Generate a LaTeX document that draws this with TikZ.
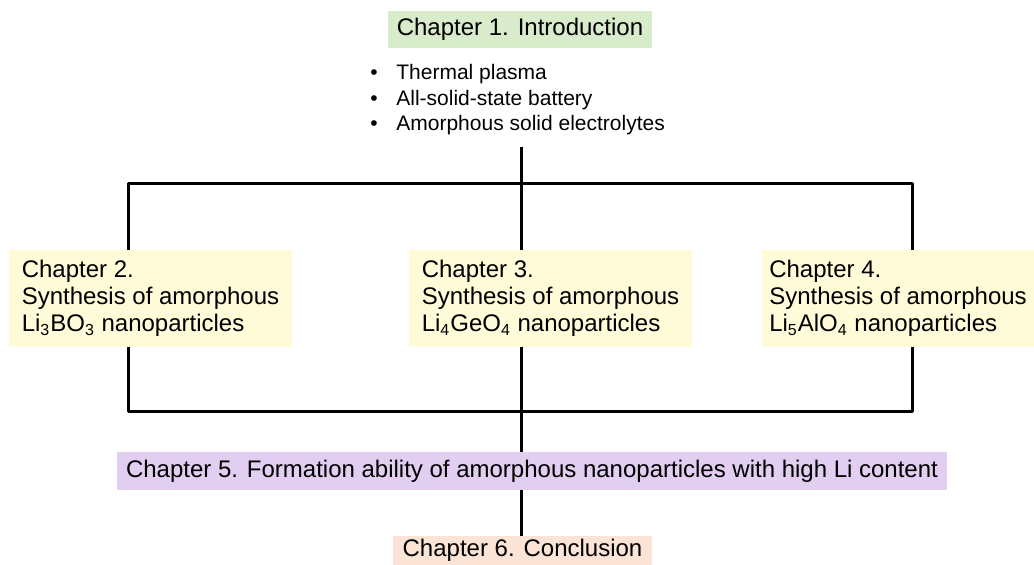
\documentclass[tikz,border=0pt]{standalone}
\usepackage{fontspec}
\setmainfont{Liberation Sans}
\usetikzlibrary{positioning}
\definecolor{introgreen}{RGB}{216,235,203}
\definecolor{synthyellow}{RGB}{255,250,216}
\definecolor{formpurple}{RGB}{225,206,240}
\definecolor{conclpeach}{RGB}{251,227,213}

\begin{document}
\begin{tikzpicture}[x=0.5pt, y=-0.5pt,
    every node/.style={font=\fontsize{12}{13.5}\selectfont, inner sep=0pt},
    chapbox/.style={minimum width=141.5pt, minimum height=48.5pt, fill=synthyellow, align=left},
    link/.style={line width=1.5pt, line join=round}]
    \useasboundingbox (0,0) rectangle (1034,565);
    % chapters
    \node (ch1) [fill=introgreen, minimum width=132pt, minimum height=18.5pt] at (520,29.5) {Chapter 1. Introduction};
    \node (topics) [anchor=north west, align=left, font=\fontsize{10.5}{12.75}\selectfont] at (370,64)
        {\makebox[13pt][l]{•}Thermal plasma\\
         \makebox[13pt][l]{•}All-solid-state battery\\
         \makebox[13pt][l]{•}Amorphous solid electrolytes};
    \node (ch2) [chapbox] at (150.5,298.5) {Chapter 2.\\Synthesis of amorphous\\Li\textsubscript{3}BO\textsubscript{3} nanoparticles};
    \node (ch3) [chapbox] at (550.5,298.5) {Chapter 3.\\Synthesis of amorphous\\Li\textsubscript{4}GeO\textsubscript{4} nanoparticles};
    \node (ch4) [chapbox, minimum width=136pt] at (898,298.5) {Chapter 4.\\Synthesis of amorphous\\Li\textsubscript{5}AlO\textsubscript{4} nanoparticles};
    \node (ch5) [fill=formpurple, minimum width=415pt, minimum height=19pt] at (532,471)
        {Chapter 5. Formation ability of amorphous nanoparticles with high Li content};
    \node (ch6) [fill=conclpeach, minimum width=129.5pt, minimum height=14.5pt] at (522.5,550.5) {Chapter 6. Conclusion};
    % connectors
    \coordinate (stem) at (521,147);
    \coordinate (split) at (521,184);
    \coordinate (merge) at (521,412);
    \coordinate (l) at (128,184);
    \coordinate (r) at (912,184);
    \draw[link] (stem) -- (split);
    \draw[link] (ch2.north -| l) |- (split) -| (ch4.north -| r);
    \draw[link] (split) -- (split |- ch3.north);
    \draw[link] (ch2.south -| l) |- (merge) -| (ch4.south -| r);
    \draw[link] (ch3.south -| merge) -- (merge) -- (merge |- ch5.north);
    \draw[link] (ch5.south -| merge) -- (merge |- ch6.north);
\end{tikzpicture}
\end{document}
